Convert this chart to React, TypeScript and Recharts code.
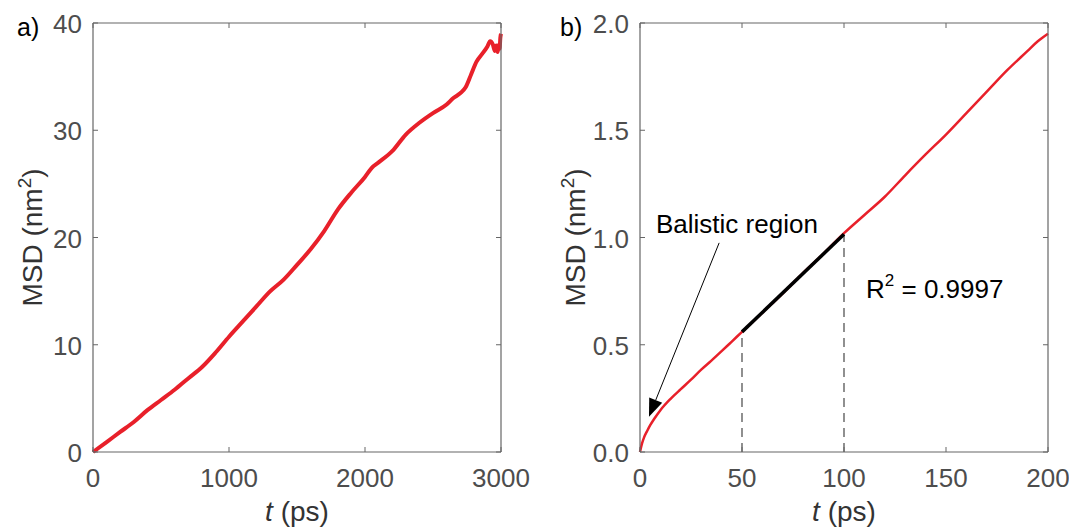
import React from "react";
import {
  LineChart,
  Line,
  XAxis,
  YAxis,
  ReferenceLine,
} from "recharts";

// panel a) long run
const timeA = [0, 100, 200, 300, 400, 500, 600, 700, 800, 900, 1000, 1100, 1200, 1300, 1400, 1500, 1600, 1700, 1800, 1900, 2000, 2050, 2100, 2200, 2300, 2400, 2500, 2600, 2650, 2700, 2740, 2780, 2820, 2860, 2900, 2920, 2940, 2955, 2965, 2975, 2985, 2990, 2995, 3000];
const msdA = [0, 0.93, 1.87, 2.8, 3.9, 4.85, 5.8, 6.86, 7.9, 9.25, 10.75, 12.15, 13.55, 14.95, 16.05, 17.45, 18.9, 20.6, 22.6, 24.2, 25.65, 26.5, 27.0, 28.05, 29.6, 30.7, 31.6, 32.4, 33.0, 33.45, 34.0, 35.2, 36.4, 37.1, 37.8, 38.3, 38.0, 37.4, 37.9, 37.3, 38.0, 37.6, 38.6, 39.0];
const xTicksA = [0, 1000, 2000, 3000];
const yTicksA = [0, 10, 20, 30, 40];

// panel b) first 200 ps
const timeB = [0, 1, 2, 3.5, 5, 7, 10, 15, 20, 25, 30, 35, 40, 45, 50, 55, 60, 70, 80, 90, 100, 110, 120, 130, 140, 150, 160, 170, 180, 190, 195, 200];
const msdB = [0, 0.04, 0.068, 0.098, 0.125, 0.155, 0.195, 0.248, 0.293, 0.337, 0.384, 0.426, 0.47, 0.515, 0.56, 0.605, 0.65, 0.74, 0.835, 0.925, 1.02, 1.105, 1.19, 1.29, 1.387, 1.48, 1.58, 1.68, 1.78, 1.87, 1.915, 1.95];
const fitTime = [50, 100];
const fitMsd = [0.56, 1.015];
const xTicksB = [0, 50, 100, 150, 200];
const yTicksB = [0, 0.5, 1, 1.5, 2];

const rowsA = timeA.map((t, i) => ({ t, v: msdA[i] }));
const rowsB = timeB.map((t, i) => ({ t, v: msdB[i] }));
const fitRows = fitTime.map((t, i) => ({ t, v: fitMsd[i] }));

const FONT = "'Liberation Sans', Arial, Helvetica, sans-serif";
const AXIS = "#666666";
const TICKTXT = "#4d4d4d";
const RED = "#e8202a";
const FS = 26;
const LABEL_FS = 28;

const BottomTick = ({ x, y, payload, fmt }: any) => (
  <g>
    <line x1={x} y1={y} x2={x} y2={y - 5} stroke={AXIS} strokeWidth={1} />
    <text x={x} y={y + 35} textAnchor="middle" fill={TICKTXT} fontSize={FS} fontFamily={FONT}>
      {fmt(payload.value)}
    </text>
  </g>
);

const LeftTick = ({ x, y, payload, fmt }: any) => (
  <g>
    <line x1={x} y1={y} x2={x + 5} y2={y} stroke={AXIS} strokeWidth={1} />
    <text x={x - 11} y={y + 10} textAnchor="end" fill={TICKTXT} fontSize={FS} fontFamily={FONT}>
      {fmt(payload.value)}
    </text>
  </g>
);

const TopTick = ({ x, y }: any) => (
  <line x1={x} y1={y} x2={x} y2={y + 5} stroke={AXIS} strokeWidth={1} />
);

const RightTick = ({ x, y }: any) => (
  <line x1={x} y1={y} x2={x - 5} y2={y} stroke={AXIS} strokeWidth={1} />
);

// thin annotation arrow with a filled head at the end point
const Arrow = ({ x1, y1, x2, y2 }: any) => {
  const ang = Math.atan2(y2 - y1, x2 - x1);
  const len = 18;
  const half = 7;
  const bx = x2 - len * Math.cos(ang);
  const by = y2 - len * Math.sin(ang);
  const px = -Math.sin(ang) * half;
  const py = Math.cos(ang) * half;
  return (
    <g>
      <line x1={x1} y1={y1} x2={bx} y2={by} stroke="#000" strokeWidth={1} />
      <polygon points={`${x2},${y2} ${bx + px},${by + py} ${bx - px},${by - py}`} fill="#000" />
    </g>
  );
};

const Box = ({ domainX, domainY, xTicks, yTicks }: any) => [
  <XAxis
    key="top"
    xAxisId="top"
    orientation="top"
    type="number"
    dataKey="t"
    domain={domainX}
    ticks={xTicks}
    allowDataOverflow
    height={1}
    tickSize={0}
    tickMargin={0}
    interval={0}
    axisLine={{ stroke: AXIS, strokeWidth: 1.2 }}
    tickLine={false}
    tick={(p: any) => <TopTick {...p} />}
  />,
  <YAxis
    key="right"
    yAxisId="right"
    orientation="right"
    type="number"
    domain={domainY}
    ticks={yTicks}
    allowDataOverflow
    width={1}
    tickSize={0}
    tickMargin={0}
    interval={0}
    axisLine={{ stroke: AXIS, strokeWidth: 1.2 }}
    tickLine={false}
    tick={(p: any) => <RightTick {...p} />}
  />,
];

export default function App() {
  return (
    <div style={{ position: "absolute", left: 0, top: 0, width: 1069, height: 530, background: "#fff" }}>
      <div style={{ position: "absolute", left: 0, top: 0 }}>
        <LineChart width={540} height={530} data={rowsA} margin={{ top: 22, left: 33, right: 38, bottom: 48 }}>
          <XAxis
            type="number"
            dataKey="t"
            domain={[0, 3000]}
            ticks={xTicksA}
            interval={0}
            height={30}
            tickSize={0}
            tickMargin={0}
            axisLine={{ stroke: AXIS, strokeWidth: 1.2 }}
            tickLine={false}
            tick={(p: any) => <BottomTick {...p} fmt={(v: number) => String(v)} />}
          />
          <YAxis
            type="number"
            domain={[0, 40]}
            ticks={yTicksA}
            interval={0}
            width={60}
            tickSize={0}
            tickMargin={0}
            axisLine={{ stroke: AXIS, strokeWidth: 1.2 }}
            tickLine={false}
            tick={(p: any) => <LeftTick {...p} fmt={(v: number) => String(v)} />}
          />
          {Box({ domainX: [0, 3000], domainY: [0, 40], xTicks: xTicksA, yTicks: yTicksA })}
          <Line
            type="monotone"
            dataKey="v"
            stroke={RED}
            strokeWidth={4}
            dot={false}
            isAnimationActive={false}
          />
        </LineChart>
      </div>

      <div style={{ position: "absolute", left: 540, top: 0 }}>
        <LineChart width={529} height={530} data={rowsB} margin={{ top: 22, left: 40, right: 20, bottom: 48 }}>
          <XAxis
            type="number"
            dataKey="t"
            domain={[0, 200]}
            ticks={xTicksB}
            interval={0}
            height={30}
            tickSize={0}
            tickMargin={0}
            axisLine={{ stroke: AXIS, strokeWidth: 1.2 }}
            tickLine={false}
            tick={(p: any) => <BottomTick {...p} fmt={(v: number) => String(v)} />}
          />
          <YAxis
            type="number"
            domain={[0, 2]}
            ticks={yTicksB}
            interval={0}
            width={60}
            tickSize={0}
            tickMargin={0}
            axisLine={{ stroke: AXIS, strokeWidth: 1.2 }}
            tickLine={false}
            tick={(p: any) => <LeftTick {...p} fmt={(v: number) => v.toFixed(1)} />}
          />
          {Box({ domainX: [0, 200], domainY: [0, 2], xTicks: xTicksB, yTicks: yTicksB })}
          <ReferenceLine
            segment={[{ x: fitTime[0], y: 0 }, { x: fitTime[0], y: fitMsd[0] }]}
            stroke="#555"
            strokeWidth={1.3}
            strokeDasharray="9 6"
          />
          <ReferenceLine
            segment={[{ x: fitTime[1], y: 0 }, { x: fitTime[1], y: fitMsd[1] }]}
            stroke="#555"
            strokeWidth={1.3}
            strokeDasharray="9 6"
          />
          <Line
            type="monotone"
            dataKey="v"
            stroke={RED}
            strokeWidth={2.5}
            dot={false}
            isAnimationActive={false}
          />
          <Line
            type="linear"
            data={fitRows}
            dataKey="v"
            stroke="#000"
            strokeWidth={3.5}
            dot={false}
            isAnimationActive={false}
          />
          <ReferenceLine
            segment={[{ x: 38.8, y: 0.975 }, { x: 4.4, y: 0.164 }]}
            shape={(p: any) => <Arrow {...p} />}
          />
        </LineChart>
      </div>

      <svg
        width={1069}
        height={530}
        style={{ position: "absolute", left: 0, top: 0, pointerEvents: "none" }}
        fontFamily={FONT}
      >
        <text x={17} y={36} fontSize={25} fill="#000">a)</text>
        <text x={560} y={36} fontSize={25} fill="#000">b)</text>

        <text transform="translate(42 237.5) rotate(-90)" textAnchor="middle" fontSize={LABEL_FS} fill="#333">
          MSD (nm<tspan dy={-11} fontSize={19}>2</tspan><tspan dy={11}>)</tspan>
        </text>
        <text transform="translate(585 237.5) rotate(-90)" textAnchor="middle" fontSize={LABEL_FS} fill="#333">
          MSD (nm<tspan dy={-11} fontSize={19}>2</tspan><tspan dy={11}>)</tspan>
        </text>

        <text x={297} y={521} textAnchor="middle" fontSize={LABEL_FS} fill="#333">
          <tspan fontStyle="italic">t</tspan> (ps)
        </text>
        <text x={844} y={521} textAnchor="middle" fontSize={LABEL_FS} fill="#333">
          <tspan fontStyle="italic">t</tspan> (ps)
        </text>

        <text x={656} y={233} fontSize={26} fill="#000">Balistic region</text>
        <text x={866} y={298} fontSize={26} fill="#000">
          R<tspan dy={-12} fontSize={17}>2</tspan><tspan dy={12}> = 0.9997</tspan>
        </text>
      </svg>
    </div>
  );
}
